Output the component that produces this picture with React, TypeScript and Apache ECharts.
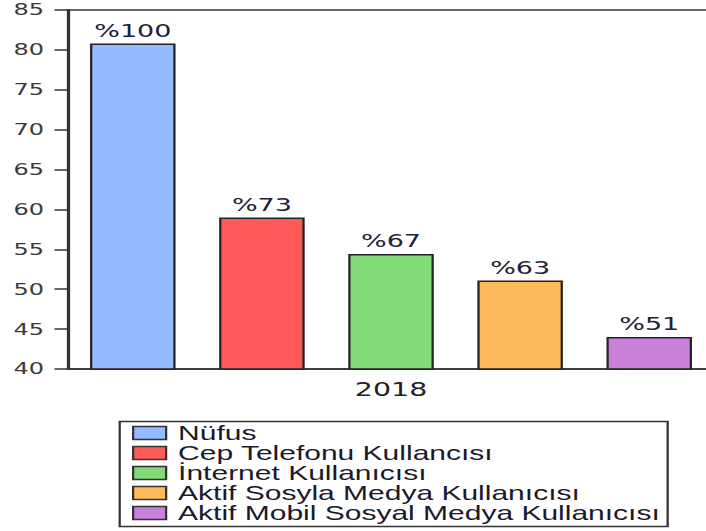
import React, { useEffect, useRef } from "react";
import * as echarts from "echarts";

const categories = ["2018"];
const seriesNames = [
  "Nüfus",
  "Cep Telefonu Kullancısı",
  "İnternet Kullanıcısı",
  "Aktif Sosyla Medya Kullanıcısı",
  "Aktif Mobil Sosyal Medya Kullanıcısı",
];
const seriesValues = [80.8, 59.0, 54.4, 51.1, 44.0];
const percentLabels = ["%100", "%73", "%67", "%63", "%51"];
const seriesColors = ["#94bbff", "#ff5a5a", "#84da78", "#ffba5c", "#c880d8"];
const yMin = 40;
const yMax = 85;
const yInterval = 5;

const STRETCH = 1.5;
const W = 482;
const H = 531;

export default function App() {
  const ref = useRef<HTMLDivElement>(null);
  useEffect(() => {
    if (!ref.current) return;
    const chart = echarts.init(ref.current, undefined, { renderer: "svg" });
    const series = seriesNames.map((name, i) => ({
      name,
      type: "bar",
      data: [seriesValues[i]],
      barWidth: 57,
      barGap: "51%",
      itemStyle: { color: seriesColors[i], borderColor: "#222", borderWidth: 1.5 },
      label: {
        show: true,
        position: "top",
        distance: 4,
        formatter: () => percentLabels[i],
        fontFamily: "DejaVu Sans",
        fontSize: 18,
        color: "#1c2038",
      },
    }));
    chart.setOption({
      animation: false,
      backgroundColor: "#ffffff",
      grid: {
        left: 45.33,
        top: 10,
        width: 430.7,
        height: 359,
        show: true,
        borderColor: "#333",
        borderWidth: 1.5,
        containLabel: false,
      },
      xAxis: {
        type: "category",
        data: categories,
        axisLine: { show: true, lineStyle: { color: "#333", width: 1.5 } },
        axisTick: { show: false },
        axisLabel: {
          margin: 11,
          fontFamily: "DejaVu Sans",
          fontSize: 19,
          color: "#222",
        },
      },
      yAxis: {
        type: "value",
        min: yMin,
        max: yMax,
        interval: yInterval,
        axisLine: { show: true, lineStyle: { color: "#333", width: 1.5 } },
        axisTick: { show: true, length: 9, lineStyle: { color: "#333", width: 1.5 } },
        splitLine: { show: false },
        axisLabel: {
          margin: 16,
          fontFamily: "DejaVu Sans",
          fontSize: 16,
          color: "#3a3a3a",
        },
      },
      legend: {
        orient: "vertical",
        left: 88,
        top: 423,
        padding: 0,
        itemGap: 0,
        itemWidth: 22,
        itemHeight: 13,
        icon: "rect",
        data: seriesNames,
        itemStyle: { borderColor: "#333", borderWidth: 1.5 },
        textStyle: {
          fontFamily: "Liberation Sans",
          fontSize: 20,
          lineHeight: 19.6,
          color: "#1a1a2a",
          padding: [0, 0, 0, 3],
        },
      },
      graphic: [
        {
          type: "rect",
          left: 77.3,
          top: 419,
          shape: { width: 365.3, height: 105 },
          style: { fill: "none", stroke: "#333", lineWidth: 1.5 },
          silent: true,
        },
      ],
      series,
    });
    return () => chart.dispose();
  }, []);
  return (
    <div
      ref={ref}
      style={{
        position: "fixed",
        left: 0,
        top: 0,
        width: W,
        height: H,
        transform: `scaleX(${STRETCH})`,
        transformOrigin: "0 0",
      }}
    />
  );
}
